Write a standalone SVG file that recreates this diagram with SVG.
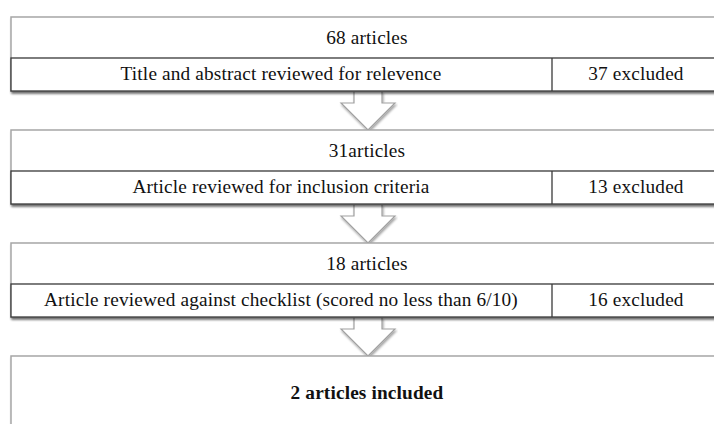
<svg xmlns="http://www.w3.org/2000/svg" width="714" height="424" viewBox="0 0 714 424">
<defs>
<filter id="sh" x="-5%" y="-20%" width="110%" height="150%">
<feDropShadow dx="1" dy="2" stdDeviation="1.3" flood-color="#000" flood-opacity="0.35"/>
</filter>
</defs>
<style>
.outer{fill:#fff;stroke:#a6a6a6;stroke-width:1.5}
.inner{fill:#fff;stroke:#3a3a3a;stroke-width:1.3}
.div{stroke:#3a3a3a;stroke-width:1.3}
.arrow{fill:#fff;stroke:#a0a0a0;stroke-width:1.2}
text{font-family:"Liberation Serif","Times New Roman",serif;font-size:19.3px;letter-spacing:0.15px;fill:#111;text-anchor:middle}
.b{font-weight:bold}
</style>
<rect width="714" height="424" fill="#fff"/>
<g id="connectors">
<path class="arrow" filter="url(#sh)" d="M354,91 V103 H341 L368,130 L395,103 H382 V91"/>
<path class="arrow" filter="url(#sh)" d="M354,204 V216 H341 L368,243 L395,216 H382 V204"/>
<path class="arrow" filter="url(#sh)" d="M354,317 V329 H341 L368,356 L395,329 H382 V317"/>
</g>
<g id="stage1">
<rect class="outer" filter="url(#sh)" x="11" y="17" width="712" height="74"/>
<text x="367" y="44">68 articles</text>
<rect class="inner" filter="url(#sh)" x="11" y="58" width="712" height="33"/>
<line class="div" x1="552" y1="58" x2="552" y2="91"/>
<text x="281" y="80">Title and abstract reviewed for relevence</text>
<text x="636" y="80">37 excluded</text>
</g>
<g id="stage2">
<rect class="outer" filter="url(#sh)" x="11" y="130" width="712" height="74"/>
<text x="367" y="157">31articles</text>
<rect class="inner" filter="url(#sh)" x="11" y="171" width="712" height="33"/>
<line class="div" x1="552" y1="171" x2="552" y2="204"/>
<text x="281" y="193">Article reviewed for inclusion criteria</text>
<text x="636" y="193">13 excluded</text>
</g>
<g id="stage3">
<rect class="outer" filter="url(#sh)" x="11" y="243" width="712" height="74"/>
<text x="367" y="270">18 articles</text>
<rect class="inner" filter="url(#sh)" x="11" y="284" width="712" height="33"/>
<line class="div" x1="552" y1="284" x2="552" y2="317"/>
<text x="281" y="306">Article reviewed against checklist (scored no less than 6/10)</text>
<text x="636" y="306">16 excluded</text>
</g>
<g id="result">
<rect class="outer" filter="url(#sh)" x="11" y="356" width="712" height="90"/>
<text class="b" x="367" y="399">2 articles included</text>
</g>
</svg>
